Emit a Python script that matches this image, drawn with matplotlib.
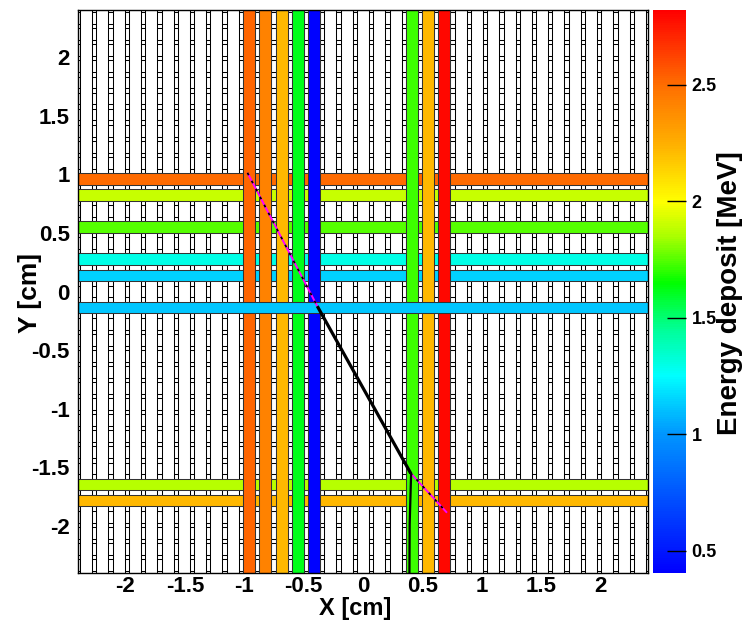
import numpy as np
import matplotlib
matplotlib.use("Agg")
import matplotlib.pyplot as plt
from matplotlib.patches import Rectangle
from matplotlib.colors import LinearSegmentedColormap, Normalize
from matplotlib.colorbar import ColorbarBase

# ---------------- data ----------------
n_fibers = 35
half_size = 2.4          # cm
fiber_width = 0.1        # cm

# hit fibres (index along the 35-fibre plane) and their energy deposits [MeV]
vert_hit_index = [10, 11, 12, 13, 14, 20, 21, 22]
vert_hit_energy = [2.52, 2.42, 2.22, 1.62, 0.42, 1.72, 2.22, 2.80]
horiz_hit_index = [24, 23, 21, 19, 18, 5, 4]
horiz_hit_energy = [2.50, 1.90, 1.75, 1.30, 1.15, 1.87, 2.22]
# horizontal fibre drawn last (on top of the vertical hits)
top_hit_index = [16]
top_hit_energy = [1.12]

e_min, e_max = 0.405, 2.82
cbar_ticks = [0.5, 1.0, 1.5, 2.0, 2.5]
axis_ticks = [-2, -1.5, -1, -0.5, 0, 0.5, 1, 1.5, 2]

# track segments (cm)
seg1_x = [-0.973, -0.385]
seg1_y = [1.012, -0.125]
track_x = [-0.385, 0.403]
track_y = [-0.125, -1.552]
seg2_x = [0.399, 0.708]
seg2_y = [-1.546, -1.887]
tail_x = [0.405, 0.393, 0.391]
tail_y = [-1.56, -1.986, -2.40]

# ---------------- palette ----------------
anchors = [(0.405, (0, 0, 255)), (1.0, (0, 150, 255)), (1.25, (0, 255, 255)),
           (1.45, (0, 255, 150)), (1.65, (0, 255, 0)), (1.85, (170, 255, 0)),
           (2.0, (255, 255, 0)), (2.25, (255, 175, 0)), (2.5, (255, 110, 0)),
           (2.82, (255, 0, 0))]
cmap = LinearSegmentedColormap.from_list(
    "rb", [((v - e_min) / (e_max - e_min), tuple(c / 255 for c in col)) for v, col in anchors])
norm = Normalize(e_min, e_max)

plt.rcParams['font.family'] = ['Liberation Sans', 'DejaVu Sans']
plt.rcParams['font.weight'] = 'bold'

W, H = 746, 627
fig = plt.figure(figsize=(W / 100, H / 100), dpi=100)
L, R, T, B = 78, 648, 10, 573
ax = fig.add_axes([L / W, (H - B) / H, (R - L) / W, (B - T) / H])
cax = fig.add_axes([653 / W, (H - B) / H, (686 - 653) / W, (B - T) / H])

pitch = 2 * half_size / n_fibers
centers = -half_size + pitch / 2 + pitch * np.arange(n_fibers)
lw = 0.75

def hbar(c, fc, ec, z):
    ax.add_patch(Rectangle((-half_size, c - fiber_width / 2), 2 * half_size, fiber_width,
                           facecolor=fc, edgecolor=ec, lw=lw, zorder=z))

def vbar(c, fc, ec, z):
    ax.add_patch(Rectangle((c - fiber_width / 2, -half_size), fiber_width, 2 * half_size,
                           facecolor=fc, edgecolor=ec, lw=lw, zorder=z))

for c in centers:
    hbar(c, 'white', 'black', 1)
for c in centers:
    vbar(c, 'white', 'black', 2)
for k, e in zip(horiz_hit_index, horiz_hit_energy):
    hbar(centers[k], cmap(norm(e)), '#333333', 3)
for k, e in zip(vert_hit_index, vert_hit_energy):
    vbar(centers[k], cmap(norm(e)), '#333333', 4)
for k, e in zip(top_hit_index, top_hit_energy):
    hbar(centers[k], cmap(norm(e)), '#333333', 5)

# tracks
for xs, ys in [(seg1_x, seg1_y), (seg2_x, seg2_y)]:
    ax.plot(xs, ys, color='#ff00ff', lw=1.4, zorder=6, solid_capstyle='butt')
    ax.plot(xs, ys, color='black', lw=1.3, ls=(0, (1.5, 3.5)), zorder=7)
ax.plot(track_x, track_y, color='black', lw=2.3, zorder=8, solid_capstyle='butt')
ax.plot(tail_x, tail_y, color='black', lw=1.6, zorder=8)

ax.set_xlim(-half_size, half_size)
ax.set_ylim(-half_size, half_size)
ax.set_xticks(axis_ticks)
ax.set_yticks(axis_ticks)
ax.set_xticklabels([f"{t:g}" for t in axis_ticks])
ax.set_yticklabels([f"{t:g}" for t in axis_ticks])
ax.tick_params(axis='x', length=0, labelsize=16, pad=2)
ax.tick_params(axis='y', length=0, labelsize=16, pad=6)
for lab in ax.get_xticklabels() + ax.get_yticklabels():
    lab.set_fontweight('bold')
for s in ax.spines.values():
    s.set_linewidth(1.0)
    s.set_zorder(10)

fig.text(355 / W, 1 - 609 / H, "X [cm]", fontsize=17, fontweight='bold',
         ha='center', va='center')
fig.text(30 / W, 1 - 293 / H, "Y [cm]", fontsize=19, fontweight='bold',
         ha='center', va='center', rotation=90)

cb = ColorbarBase(cax, cmap=cmap, norm=norm, orientation='vertical')
cb.outline.set_visible(False)
cb.set_ticks(cbar_ticks)
cb.set_ticklabels([f"{t:g}" for t in cbar_ticks])
cax.tick_params(direction='in', length=14, width=1, labelsize=13, pad=4)
for lab in cax.get_yticklabels():
    lab.set_fontweight('bold')
fig.text(730 / W, 1 - 293 / H, "Energy deposit [MeV]", fontsize=20, fontweight='bold',
         ha='center', va='center', rotation=90)

fig.savefig("out.png", dpi=100)
